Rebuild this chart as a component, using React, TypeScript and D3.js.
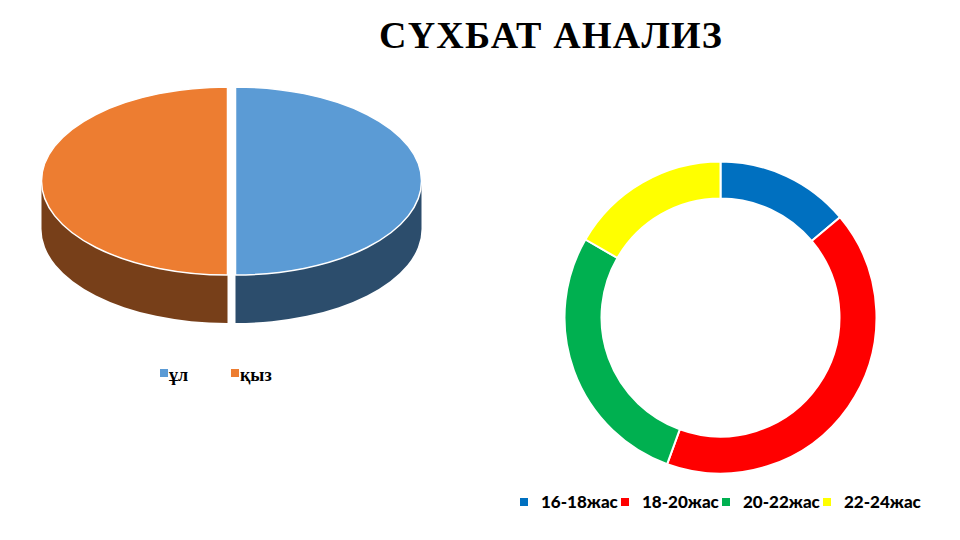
import React, { useEffect, useRef } from "react";
import * as d3 from "d3";

const title = "СҮХБАТ АНАЛИЗ";

const genderLabels = ["ұл", "қыз"];
const genderValues = [50, 50];
const genderTop = ["#5B9BD5", "#ED7D31"];
const genderSide = ["#2C4D6C", "#773F19"];

const ageLabels = ["16-18жас", "18-20жас", "20-22жас", "22-24жас"];
const ageValues = [5, 15, 10, 6];
const ageColors = ["#0070C0", "#FF0000", "#00B050", "#FFFF00"];

const App = () => {
  const svgRef = useRef(null);

  useEffect(() => {
    drawChart();
  }, []);

  const drawChart = () => {
    const svg = d3.select(svgRef.current);
    svg.selectAll("*").remove();

    // Title
    svg
      .append("text")
      .attr("x", 551)
      .attr("y", 48)
      .attr("text-anchor", "middle")
      .attr("font-family", "Liberation Serif")
      .attr("font-weight", "bold")
      .attr("font-size", 38)
      .attr("letter-spacing", 1.2)
      .attr("fill", "#000")
      .text(title);

    // 3D pie (ул / қыз)
    const cx = 231.5;
    const cy = 181;
    const rx = 186;
    const ry = 94;
    const depth = 48;
    const explode = 4;

    const pie = d3.pie().sort(null).value((d) => d);
    const slices = pie(genderValues);

    const pt = (a, dx, dy = 0) => [
      cx + dx + rx * Math.sin(a),
      cy + dy - ry * Math.cos(a),
    ];

    const pieG = svg.append("g");

    slices.forEach((s, i) => {
      const mid = (s.startAngle + s.endAngle) / 2;
      const dx = explode * Math.sin(mid);
      // visible part of the rim is the front half (pi/2 .. 3pi/2)
      const a0 = Math.max(s.startAngle, Math.PI / 2);
      const a1 = Math.min(s.endAngle, (3 * Math.PI) / 2);
      if (a1 > a0) {
        const p0 = pt(a0, dx);
        const p1 = pt(a1, dx);
        const q0 = pt(a0, dx, depth);
        const q1 = pt(a1, dx, depth);
        pieG
          .append("path")
          .attr(
            "d",
            `M${p0}A${rx},${ry} 0 0 1 ${p1}L${q1}A${rx},${ry} 0 0 0 ${q0}Z`
          )
          .attr("fill", genderSide[i]);
      }
    });

    slices.forEach((s, i) => {
      const mid = (s.startAngle + s.endAngle) / 2;
      const dx = explode * Math.sin(mid);
      const p0 = pt(s.startAngle, dx);
      const p1 = pt(s.endAngle, dx);
      const large = s.endAngle - s.startAngle > Math.PI ? 1 : 0;
      pieG
        .append("path")
        .attr(
          "d",
          `M${cx + dx},${cy}L${p0}A${rx},${ry} 0 ${large} 1 ${p1}Z`
        )
        .attr("fill", genderTop[i])
        .attr("stroke", "#fff")
        .attr("stroke-width", 1.5)
        .attr("stroke-linejoin", "round");
    });

    // Pie legend
    const leg1 = svg
      .selectAll(".leg1")
      .data(genderLabels)
      .join("g")
      .attr("class", "leg1")
      .attr("transform", (d, i) => `translate(${160 + i * 71},369)`);
    leg1
      .append("rect")
      .attr("width", 8)
      .attr("height", 8)
      .attr("fill", (d, i) => genderTop[i]);
    leg1
      .append("text")
      .attr("x", 9)
      .attr("y", 12)
      .attr("font-family", "Liberation Serif")
      .attr("font-weight", "bold")
      .attr("font-size", 18)
      .attr("fill", "#000")
      .text((d) => d);

    // Donut (age groups)
    const arc = d3.arc().innerRadius(119).outerRadius(156);
    const donut = pie(ageValues);
    svg
      .append("g")
      .attr("transform", "translate(720.5,317.5)")
      .selectAll("path")
      .data(donut)
      .join("path")
      .attr("d", arc)
      .attr("fill", (d, i) => ageColors[i])
      .attr("stroke", "#fff")
      .attr("stroke-width", 2);

    // Donut legend
    const leg2 = svg
      .selectAll(".leg2")
      .data(ageLabels)
      .join("g")
      .attr("class", "leg2")
      .attr("transform", (d, i) => `translate(${520 + i * 101},498)`);
    leg2
      .append("rect")
      .attr("width", 8)
      .attr("height", 8)
      .attr("fill", (d, i) => ageColors[i]);
    leg2
      .append("text")
      .attr("x", 21)
      .attr("y", 10)
      .attr("font-family", "Lato")
      .attr("font-weight", 900)
      .attr("font-size", 17)
      .attr("fill", "#000")
      .text((d) => d);
  };

  return (
    <svg
      ref={svgRef}
      width="960"
      height="540"
      style={{ position: "absolute", left: 0, top: 0, background: "#fff" }}
    ></svg>
  );
};

export default App;
